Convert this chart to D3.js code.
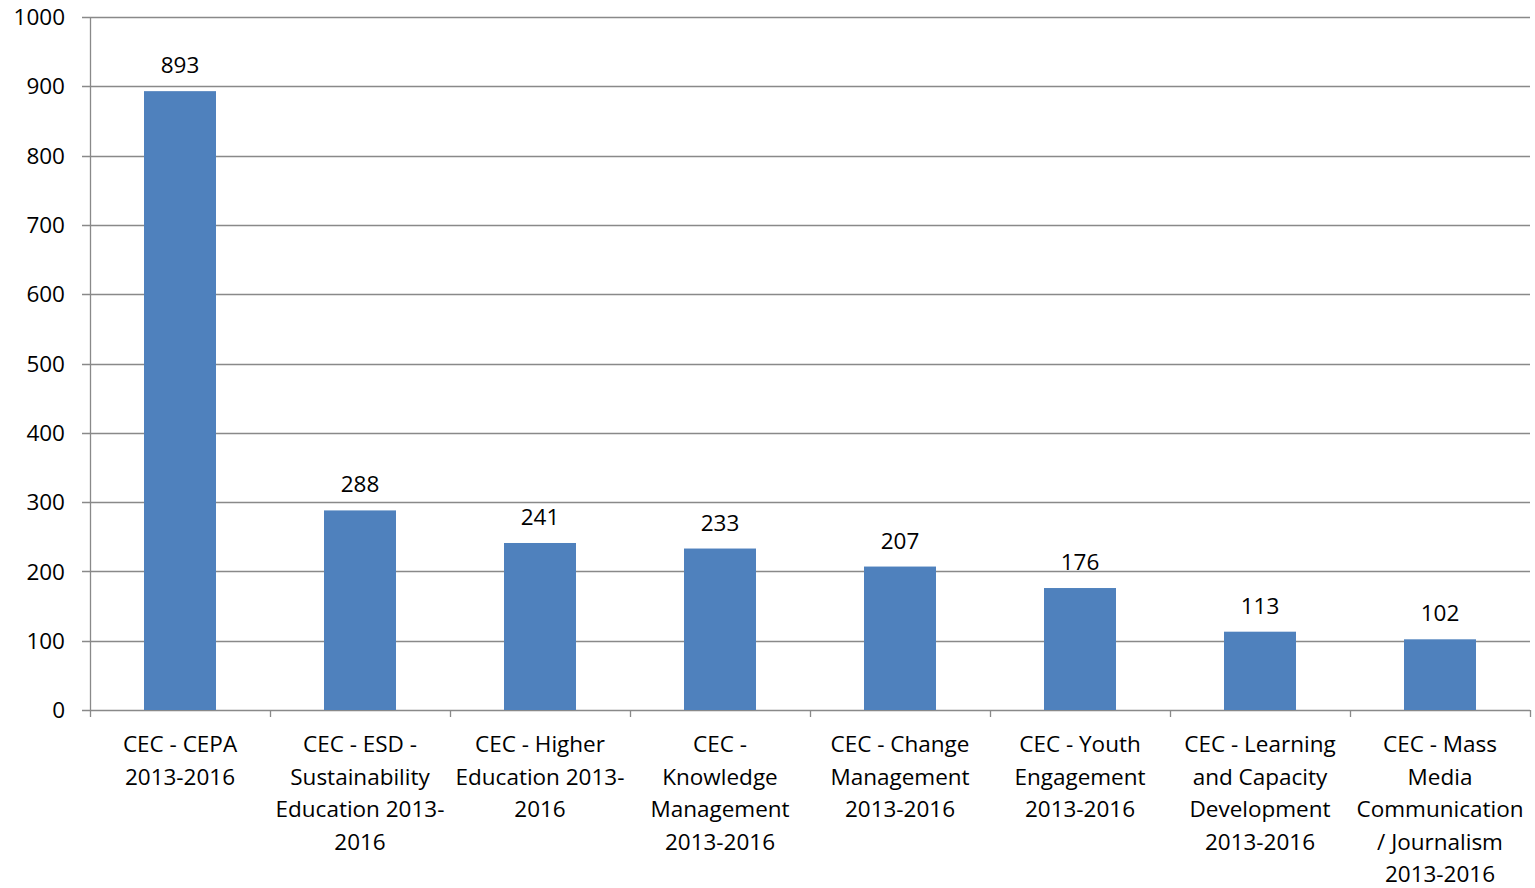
<!DOCTYPE html>
<html>
<head>
<meta charset="utf-8">
<script src="https://cdn.jsdelivr.net/npm/d3@7"></script>
<style>
  body { margin: 0; background: #fff; }
  text { font-family: "Open Sans", sans-serif; fill: #000; }
</style>
</head>
<body>
<div id="chart"></div>
<script>
// Category labels, already broken into lines like the original
const categories = [
  ["CEC - CEPA", "2013-2016"],
  ["CEC - ESD -", "Sustainability", "Education 2013-", "2016"],
  ["CEC - Higher", "Education 2013-", "2016"],
  ["CEC -", "Knowledge", "Management", "2013-2016"],
  ["CEC - Change", "Management", "2013-2016"],
  ["CEC - Youth", "Engagement", "2013-2016"],
  ["CEC - Learning", "and Capacity", "Development", "2013-2016"],
  ["CEC - Mass", "Media", "Communication", "/ Journalism", "2013-2016"]
];
const values = [893, 288, 241, 233, 207, 176, 113, 102];
const yTicks = [0, 100, 200, 300, 400, 500, 600, 700, 800, 900, 1000];

const width = 1535, height = 888;
const margin = { top: 17, right: 5, bottom: 178, left: 90 };
const fontSize = "22.5px";

const svg = d3.select("#chart").append("svg")
  .attr("width", width)
  .attr("height", height);

const x = d3.scaleBand()
  .domain(d3.range(categories.length))
  .range([margin.left, width - margin.right])
  .paddingInner(0.6)
  .paddingOuter(0.3);

const y = d3.scaleLinear()
  .domain([0, 1000])
  .range([height - margin.bottom, margin.top]);

const gridColor = "#898989";

// Horizontal gridlines
svg.append("g")
  .selectAll("line")
  .data(yTicks)
  .join("line")
  .attr("x1", margin.left - 8)
  .attr("x2", width - margin.right)
  .attr("y1", d => Math.round(y(d)) + 0.5)
  .attr("y2", d => Math.round(y(d)) + 0.5)
  .attr("stroke", gridColor)
  .attr("stroke-width", 1.3);

// Y labels
svg.append("g")
  .selectAll("text")
  .data(yTicks)
  .join("text")
  .attr("x", margin.left - 25)
  .attr("y", d => y(d))
  .attr("dy", "0.36em")
  .attr("text-anchor", "end")
  .attr("font-size", fontSize)
  .text(d => d);

// Y axis line
svg.append("line")
  .attr("x1", margin.left + 0.5).attr("x2", margin.left + 0.5)
  .attr("y1", y(1000)).attr("y2", y(0))
  .attr("stroke", gridColor).attr("stroke-width", 1.3);

// Bottom category ticks at the band edges
const bounds = d3.range(categories.length + 1).map(i => margin.left + i * (width - margin.left - margin.right) / categories.length);
svg.append("g")
  .selectAll("line")
  .data(bounds)
  .join("line")
  .attr("x1", d => Math.round(d) + 0.5)
  .attr("x2", d => Math.round(d) + 0.5)
  .attr("y1", y(0))
  .attr("y2", y(0) + 7)
  .attr("stroke", gridColor)
  .attr("stroke-width", 1.3);

// Bars
svg.append("g")
  .selectAll("rect")
  .data(values)
  .join("rect")
  .attr("x", (d, i) => x(i))
  .attr("y", d => y(d))
  .attr("width", x.bandwidth())
  .attr("height", d => y(0) - y(d))
  .attr("fill", "#4F81BD");

// Value labels
svg.append("g")
  .selectAll("text")
  .data(values)
  .join("text")
  .attr("x", (d, i) => x(i) + x.bandwidth() / 2)
  .attr("y", d => y(d) - 18)
  .attr("text-anchor", "middle")
  .attr("font-size", fontSize)
  .text(d => d);

// Category labels
const catG = svg.append("g")
  .selectAll("text")
  .data(categories)
  .join("text")
  .attr("x", (d, i) => x(i) + x.bandwidth() / 2)
  .attr("y", y(0) + 42)
  .attr("text-anchor", "middle")
  .attr("font-size", fontSize);

catG.selectAll("tspan")
  .data(d => d)
  .join("tspan")
  .attr("x", function () { return d3.select(this.parentNode).attr("x"); })
  .attr("dy", (d, i) => i === 0 ? 0 : 32.5)
  .text(d => d);
</script>
</body>
</html>
